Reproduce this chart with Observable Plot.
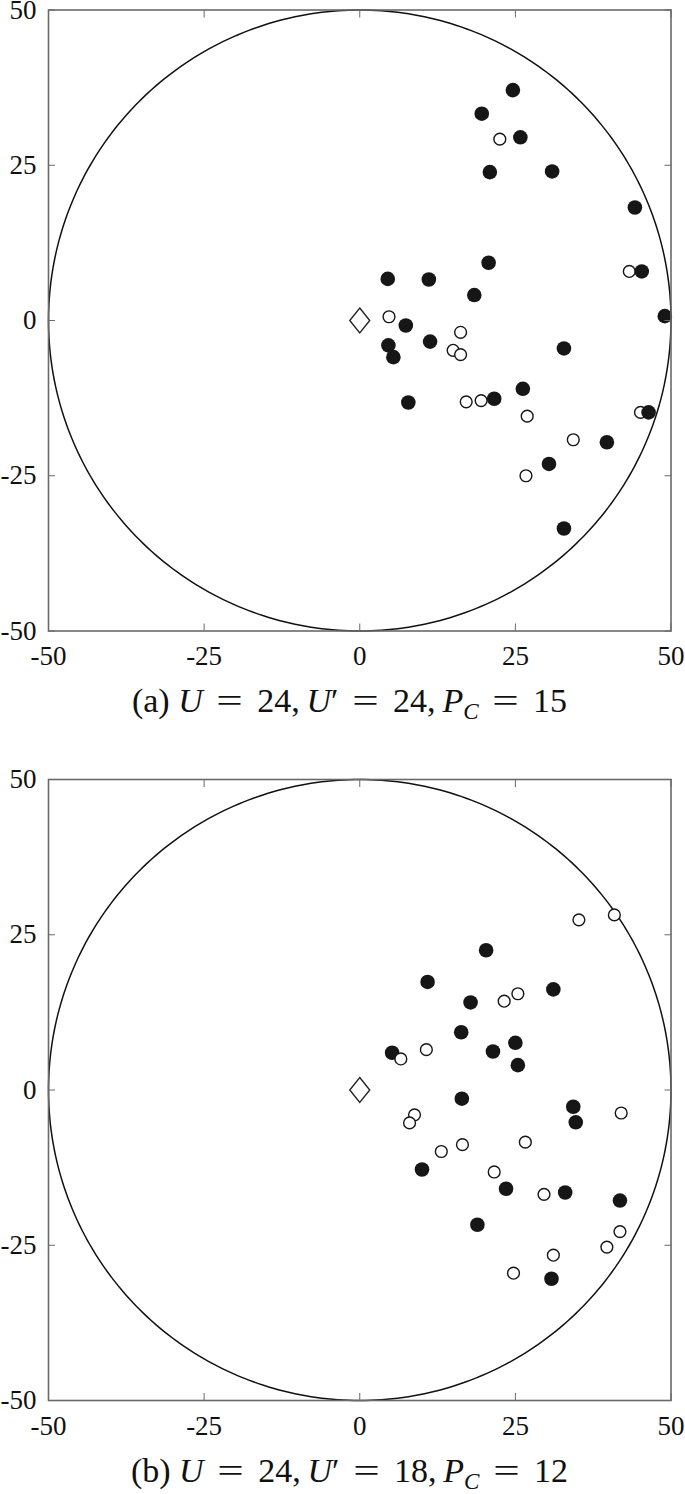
<!DOCTYPE html>
<html>
<head>
<meta charset="utf-8">
<script src="https://cdn.jsdelivr.net/npm/d3@7"></script>
<script src="https://cdn.jsdelivr.net/npm/@observablehq/plot@0.6"></script>
<style>
  body { margin: 0; background: #fff; width: 685px; }
  .cap { font-family: "Liberation Serif", "DejaVu Serif", serif; font-size: 34px; color: #111; text-align: center; position: relative; left: 7px; white-space: nowrap; }
  .cap i { font-style: italic; }
  .cap .eq { margin: 0 0.52em; display: inline-block; transform: scaleX(1.38); }
  .cap sub { font-size: 0.68em; vertical-align: -0.3em; line-height: 0; }
  svg { display: block; overflow: visible; }
</style>
</head>
<body>
<div id="a"></div>
<div class="cap" id="capA" style="height:65px;line-height:50px">(a)&nbsp;<i>U</i><span class="eq">=</span>24,&thinsp;<i>U</i>′<span class="eq">=</span>24,&thinsp;<i>P</i><sub><i>C</i></sub><span class="eq">=</span>15</div>
<div id="b"></div>
<div class="cap" id="capB" style="height:51px;line-height:51px">(b)&nbsp;<i>U</i><span class="eq">=</span>24,&thinsp;<i>U</i>′<span class="eq">=</span>18,&thinsp;<i>P</i><sub><i>C</i></sub><span class="eq">=</span>12</div>
<script>
// Panel (a)
const aFilledX = [24.6, 19.6, 25.8, 20.9, 30.9, 44.2, 20.7, 4.5, 11.1, 18.4, 45.3, 49.0, 7.4, 4.6, 5.4, 11.3, 32.8, 26.2, 21.6, 7.8, 46.4, 39.7, 30.4, 32.8];
const aFilledY = [37.1, 33.3, 29.5, 23.9, 24.0, 18.2, 9.3, 6.7, 6.6, 4.1, 7.9, 0.7, -0.8, -4.0, -5.9, -3.4, -4.5, -11.0, -12.6, -13.2, -14.8, -19.6, -23.1, -33.5];
const aOpenX = [22.5, 43.3, 4.7, 16.2, 15.0, 16.2, 19.5, 17.1, 26.9, 45.1, 34.3, 26.7];
const aOpenY = [29.2, 7.9, 0.6, -1.9, -4.8, -5.5, -12.9, -13.1, -15.4, -14.8, -19.2, -25.0];
// Panel (b)
const bFilledX = [20.3, 10.9, 31.1, 17.8, 16.3, 25.0, 21.4, 25.4, 5.2, 16.4, 34.3, 34.7, 10.0, 23.5, 33.0, 41.8, 18.9, 30.8];
const bFilledY = [22.5, 17.4, 16.2, 14.1, 9.3, 7.6, 6.2, 4.0, 6.0, -1.4, -2.7, -5.2, -12.8, -15.9, -16.5, -17.8, -21.7, -30.4];
const bOpenX = [35.2, 40.9, 25.4, 23.2, 6.6, 10.7, 42.0, 8.8, 8.0, 16.5, 13.1, 26.6, 21.6, 29.6, 41.8, 39.7, 31.1, 24.7];
const bOpenY = [27.4, 28.2, 15.5, 14.3, 5.0, 6.5, -3.7, -4.0, -5.3, -8.8, -9.9, -8.4, -13.2, -16.8, -22.8, -25.3, -26.6, -29.5];
// Base station (diamond) position
const baseX = [0];
const baseY = [0];
// Coverage circle radius and axis ticks
const radius = 50;
const ticks = [-50, -25, 0, 25, 50];

const zip = (xs, ys) => xs.map((x, i) => ({x, y: ys[i]}));
const circlePts = d3.range(0, 361, 1).map(a => ({x: radius * Math.cos(a * Math.PI / 180), y: radius * Math.sin(a * Math.PI / 180)}));

const diamondSym = {
  draw(ctx, size) {
    const r = Math.sqrt(size / Math.PI);
    const hw = r * 0.8, hh = r;
    ctx.moveTo(0, -hh);
    ctx.lineTo(hw, 0);
    ctx.lineTo(0, hh);
    ctx.lineTo(-hw, 0);
    ctx.closePath();
  }
};

function panel(filled, open, openOnTop, marginTop) {
  const filledMark = Plot.dot(filled, {x: "x", y: "y", r: 7.3, fill: "#161616", stroke: "none"});
  const openMark = Plot.dot(open, {x: "x", y: "y", r: 5.9, fill: "white", stroke: "#161616", strokeWidth: 1.4});
  const dots = openOnTop ? [filledMark, openMark] : [openMark, filledMark];
  return Plot.plot({
    width: 685,
    height: marginTop + 621 + 45,
    marginTop: marginTop,
    marginLeft: 48,
    marginRight: 14.5,
    marginBottom: 45,
    style: {fontFamily: "'Liberation Serif', serif", fontSize: "27px", color: "#111", background: "white", overflow: "visible"},
    x: {domain: [-50, 50], label: null},
    y: {domain: [-50, 50], label: null},
    marks: [
      Plot.line(circlePts, {x: "x", y: "y", stroke: "#111", strokeWidth: 1.5}),
      ...dots,
      Plot.dot(zip(baseX, baseY), {x: "x", y: "y", r: 12.5, symbol: diamondSym, fill: "white", stroke: "#222", strokeWidth: 1.4}),
      Plot.frame({stroke: "#6a6a6a", strokeWidth: 1.6}),
      Plot.axisX({anchor: "bottom", ticks, tickSize: -7, tickPadding: 22, tickFormat: d => String(d), stroke: "#6a6a6a"}),
      Plot.axisX({anchor: "top", ticks, tickSize: -7, tickFormat: () => "", stroke: "#6a6a6a"}),
      Plot.axisY({anchor: "left", ticks, tickSize: -7, tickPadding: 19, tickFormat: d => String(d), stroke: "#6a6a6a"}),
      Plot.axisY({anchor: "right", ticks, tickSize: -7, tickFormat: () => "", stroke: "#6a6a6a"})
    ]
  });
}

document.getElementById("a").append(panel(zip(aFilledX, aFilledY), zip(aOpenX, aOpenY), false, 9.5));
document.getElementById("b").append(panel(zip(bFilledX, bFilledY), zip(bOpenX, bOpenY), true, 38));
</script>
</body>
</html>
